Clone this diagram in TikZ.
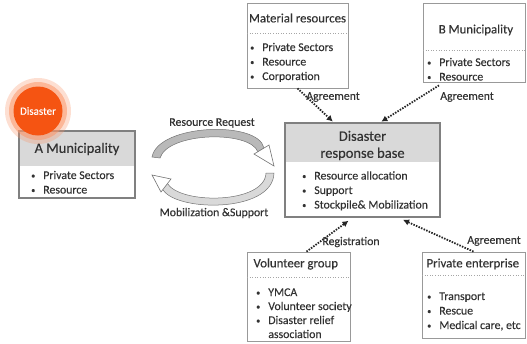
\documentclass[tikz,border=0pt]{standalone}
\usepackage{fontspec}
\setmainfont{Carlito}[FakeBold=0.3]
\usetikzlibrary{arrows.meta}

\definecolor{disred}{RGB}{245,84,18}
\definecolor{glow}{RGB}{250,150,105}
\definecolor{headgray}{RGB}{217,217,217}
\definecolor{framegray}{RGB}{128,128,128}
\definecolor{txtgray}{RGB}{50,50,50}

\newcommand{\bl}{\raisebox{0.6pt}{\scalebox{0.7}{\textbullet}}}
\newcommand{\itemlist}[1]{\begin{tabular}[t]{@{}l@{\hspace{8pt}}l@{}}#1\end{tabular}}

\begin{document}
\begin{tikzpicture}[x=1pt,y=-1pt,
	mainbox/.style={draw=framegray,line width=1.6pt},
	subbox/.style={draw=gray!80,line width=0.8pt},
	sepline/.style={gray!70,dotted,line width=0.6pt},
	headtxt/.style={text=txtgray,font=\fontsize{14.5}{17}\selectfont},
	subhead/.style={text=txtgray,font=\fontsize{12.8}{14}\selectfont},
	listtxt/.style={anchor=base west,inner sep=0,text=txtgray,font=\fontsize{11.8}{14.5}\selectfont},
	lbl/.style={text=txtgray,font=\fontsize{11.8}{13}\selectfont},
	dotarrow/.style={draw=black!85,line width=1.8pt,dash pattern=on 1.5pt off 1.3pt,
		-{Latex[length=6pt,width=6.5pt]},shorten >=1pt},
	ribbon/.style={fill=gray!55,draw=gray!90!black,line width=0.5pt},
	hollowtip/.style={fill=white,draw=gray!90!black,line width=0.6pt}]
		\useasboundingbox (0,0) rectangle (527,343);

		% A Municipality
		\fill[headgray] (19,131) rectangle (135,166);
		\node[mainbox,minimum width=116,minimum height=67] (amun) at (77,164.5) {};
		\node[headtxt] (amunH) at (77,149) {A Municipality};
		\node[listtxt] (amunL) at (31,179) {\itemlist{\bl & Private Sectors\\ \bl & Resource}};

		% disaster spot
		\fill[glow,opacity=0.3] (38,111) circle (33);
		\fill[glow,opacity=0.55] (38,111) circle (29);
		\node[circle,fill=disred,minimum size=49,inner sep=0,text=white,
			font=\fontsize{11}{12}\selectfont] (dis) at (38,111) {Disaster};

		% response base
		\fill[headgray] (285,123) rectangle (440,162);
		\node[mainbox,minimum width=155,minimum height=94] (base) at (362.5,170) {};
		\node[headtxt,align=center] (baseH) at (362.5,145.5) {Disaster\\response base};
		\node[listtxt] (baseL) at (302,179.5) {\itemlist{\bl & Resource allocation\\ \bl & Support\\ \bl & Stockpile\& Mobilization}};

		% material resources
		\node[subbox,minimum width=101,minimum height=85] (mat) at (297.5,45.5) {};
		\draw[sepline] (247,33) -- (348,33);
		\node[subhead] (matH) at (297.5,18) {Material resources};
		\node[listtxt] (matL) at (250,51) {\itemlist{\bl & Private Sectors\\ \bl & Resource\\ \bl & Corporation}};

		% B Municipality
		\node[subbox,minimum width=102,minimum height=79] (bmun) at (474,42.5) {};
		\draw[sepline] (423,50) -- (525,50);
		\node[subhead] (bmunH) at (476,30) {B Municipality};
		\node[listtxt] (bmunL) at (427,66) {\itemlist{\bl & Private Sectors\\ \bl & Resource}};

		% volunteer group
		\node[subbox,minimum width=103,minimum height=89] (vol) at (298.5,296.5) {};
		\draw[sepline] (247,277) -- (350,277);
		\node[subhead,anchor=west] (volH) at (250,264) {Volunteer group};
		\node[listtxt,font=\fontsize{11.8}{14}\selectfont] (volL) at (256,296) {\itemlist{\bl & YMCA\\ \bl & Volunteer society\\ \bl & Disaster relief\\ & association}};

		% private enterprise
		\node[subbox,minimum width=103,minimum height=86] (priv) at (473.5,295) {};
		\draw[sepline] (422,275) -- (525,275);
		\node[subhead,anchor=west] (privH) at (423,264) {Private enterprise};
		\node[listtxt] (privL) at (427,300) {\itemlist{\bl & Transport\\ \bl & Rescue\\ \bl & Medical care, etc}};

		% dotted links
		\draw[dotarrow] (mat.south) -- ([xshift=-29pt]base.north);
		\draw[dotarrow] ([xshift=-35pt,yshift=-3pt]bmun.south) -- ([xshift=18pt]base.north);
		\draw[dotarrow,shorten >=5pt] ([xshift=8pt]vol.north) -- ([xshift=-10pt]base.south);
		\draw[dotarrow,shorten >=5pt] (priv.north) -- ([xshift=36pt]base.south);
		\node[lbl] (agrM) at (333,97) {Agreement};
		\node[lbl] (agrB) at (467,97) {Agreement};
		\node[lbl] (regV) at (351,242) {Registration};
		\node[lbl] (agrP) at (494,241) {Agreement};

		% exchange ribbons
		\filldraw[ribbon] (152,157) .. controls (158,124) and (258,120) .. (264,148)
			-- (258,152) .. controls (250,130) and (168,132) .. (160,158) -- cycle;
		\filldraw[hollowtip] (254,154) -- (274,166) -- (269,145) -- cycle;
		\filldraw[ribbon,fill=gray!30] (274,173) .. controls (273,214) and (172,212) .. (162,188)
			-- (167,183) .. controls (180,205) and (265,204) .. (266,173) -- cycle;
		\filldraw[hollowtip] (152,175) -- (171,179) -- (161,192) -- cycle;
		\node[lbl] (req) at (212,123) {Resource Request};
		\node[lbl] (mob) at (214,213) {Mobilization \&Support};
\end{tikzpicture}
\end{document}
